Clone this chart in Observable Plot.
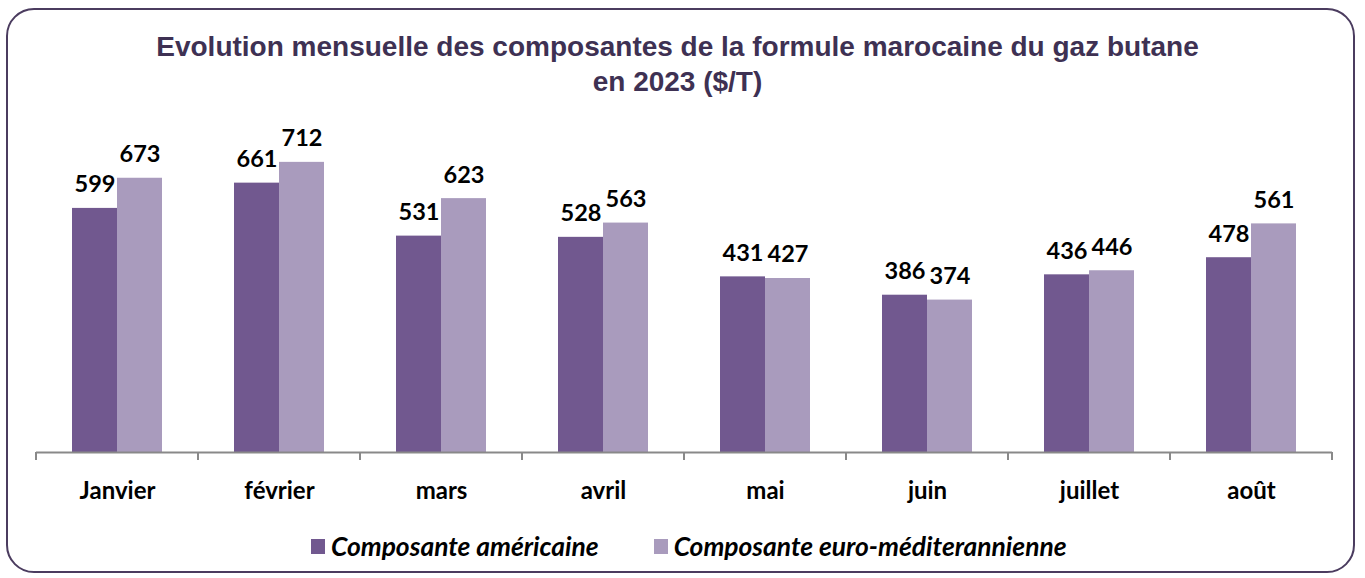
<!DOCTYPE html>
<html>
<head>
<meta charset="utf-8">
<script src="https://cdn.jsdelivr.net/npm/d3@7"></script>
<script src="https://cdn.jsdelivr.net/npm/@observablehq/plot@0.6"></script>
<style>
  html, body { margin: 0; padding: 0; background: #fff; }
  #wrap { position: relative; width: 1365px; height: 578px; overflow: hidden; background: #fff; }
  #frame { position: absolute; left: 6px; top: 8px; width: 1349px; height: 565px;
           border: 2px solid #4b3c5f; border-radius: 28px; box-sizing: border-box; }
  #title { position: absolute; left: -5px; top: 29px; width: 1365px; text-align: center;
           font-family: "Liberation Sans", Arial, sans-serif; font-weight: bold; font-size: 28px;
           line-height: 35px; color: #3e3153; }
  #chart { position: absolute; left: 0; top: 100px; }
  #legend { position: absolute; left: 311px; top: 530px; display: flex; gap: 55px;
            font-family: Lato, sans-serif; font-style: italic; font-weight: bold; font-size: 26.4px; color: #000; }
  .item { display: flex; align-items: center; }
  .sw { width: 14px; height: 15px; margin-right: 6px; }
</style>
</head>
<body>
<div id="wrap">
  <div id="frame"></div>
  <div id="title">Evolution mensuelle des composantes de la formule marocaine du gaz butane<br>en 2023 ($/T)</div>
  <div id="chart"></div>
  <div id="legend"></div>
</div>
<script>
const months = ["Janvier", "février", "mars", "avril", "mai", "juin", "juillet", "août"];
const seriesNames = ["Composante américaine", "Composante euro-méditerannienne"];
const seriesColors = ["#71588f", "#a99bbd"];
const americaine = [599, 661, 531, 528, 431, 386, 436, 478];
const euroMed = [673, 712, 623, 563, 427, 374, 446, 561];

const data = [];
months.forEach((m, i) => {
  data.push({month: m, series: seriesNames[0], value: americaine[i]});
  data.push({month: m, series: seriesNames[1], value: euroMed[i]});
});

const plot = Plot.plot({
  width: 1365,
  height: 420,
  marginLeft: 36,
  marginRight: 33,
  marginTop: 26,
  marginBottom: 68,
  style: {fontFamily: "Lato, sans-serif", fontSize: "24px", fontWeight: "bold", color: "#000", background: "transparent"},
  fx: {domain: months, padding: 0, axis: "bottom", label: null, tickSize: 0, tickPadding: 29},
  x: {domain: seriesNames, paddingInner: 0, paddingOuter: 0.761, axis: null},
  y: {domain: [0, 800], axis: null},
  color: {domain: seriesNames, range: seriesColors},
  marks: [
    Plot.barY(data, {fx: "month", x: "series", y: "value", fill: "series"}),
    Plot.ruleY([0], {stroke: "#898989", strokeWidth: 2}),
    Plot.text(data, {fx: "month", x: "series", y: "value", text: d => String(d.value),
      lineAnchor: "bottom", dy: -16, fontSize: 23.5, fontWeight: "bold", fill: "#000"})
  ]
});
document.getElementById("chart").appendChild(plot);

// tick marks at category boundaries, positioned via the fx and y scales
const fx = plot.scale("fx");
const ys = plot.scale("y");
const y0 = ys.apply(0);
const bounds = months.map(m => fx.apply(m)).concat([fx.apply(months[months.length - 1]) + fx.bandwidth]);
const svg = d3.select(plot.tagName.toLowerCase() === "svg" ? plot : plot.querySelector("svg"));
svg.append("g").selectAll("line").data(bounds).join("line")
  .attr("x1", d => d).attr("x2", d => d)
  .attr("y1", y0).attr("y2", y0 + 8)
  .attr("stroke", "#898989").attr("stroke-width", 2);

// legend
const legend = d3.select("#legend");
seriesNames.forEach((s, i) => {
  const it = legend.append("div").attr("class", "item");
  it.append("div").attr("class", "sw").style("background", seriesColors[i]);
  it.append("span").text(s);
});
</script>
</body>
</html>
